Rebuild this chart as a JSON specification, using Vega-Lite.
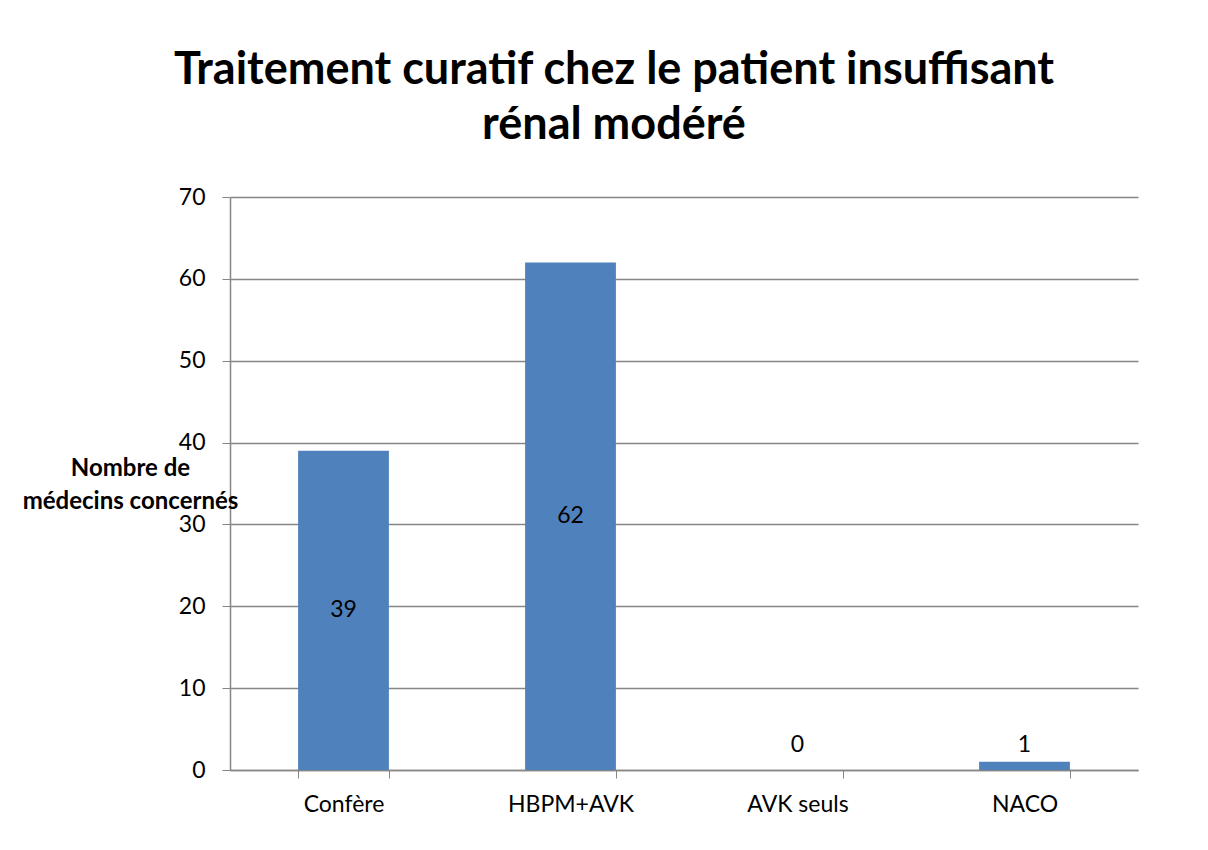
{
  "$schema": "https://vega.github.io/schema/vega-lite/v6.json",
  "autosize": {"type": "none"},
  "width": 908,
  "height": 573,
  "padding": {"left": 230, "top": 197, "right": 70, "bottom": 80},
  "background": "white",
  "title": {
    "text": ["Traitement curatif chez le patient insuffisant", "rénal modéré"],
    "font": "Lato",
    "fontSize": 45,
    "fontWeight": "bold",
    "color": "black",
    "anchor": "middle",
    "frame": "group",
    "lineHeight": 55,
    "offset": 38,
    "dx": -70
  },
  "data": {
    "values": [
      {"categorie": "Confère", "medecins": 39},
      {"categorie": "HBPM+AVK", "medecins": 62},
      {"categorie": "AVK seuls", "medecins": 0},
      {"categorie": "NACO", "medecins": 1}
    ]
  },
  "encoding": {
    "x": {
      "field": "categorie",
      "type": "nominal",
      "sort": null,
      "scale": {"paddingInner": 0.6, "paddingOuter": 0.3},
      "axis": {
        "title": null,
        "labelAngle": 0,
        "labelFont": "Lato",
        "labelFontSize": 23,
        "labelColor": "black",
        "labelPadding": 15,
        "tickBand": "extent",
        "tickSize": 8,
        "tickColor": "#868686",
        "domainColor": "#868686",
        "domainWidth": 1.5,
        "grid": false
      }
    }
  },
  "layer": [
    {
      "mark": {"type": "bar", "color": "#4F81BD"},
      "encoding": {
        "y": {
          "field": "medecins",
          "type": "quantitative",
          "scale": {"domain": [0, 70], "nice": false},
          "axis": {
            "values": [0, 10, 20, 30, 40, 50, 60, 70],
            "title": ["Nombre de", "médecins concernés"],
            "titleAngle": 0,
            "titleFont": "Lato",
            "titleFontSize": 24,
            "titleFontWeight": "bold",
            "titleColor": "black",
            "titleAlign": "center",
            "titleBaseline": "middle",
            "titleLineHeight": 33,
            "titleX": -100,
            "titleY": 271,
            "labelFont": "Lato",
            "labelFontSize": 23,
            "labelColor": "black",
            "labelPadding": 17,
            "tickSize": 8,
            "tickColor": "#868686",
            "domainColor": "#868686",
            "domainWidth": 1.5,
            "grid": true,
            "gridColor": "#868686",
            "gridWidth": 1.5
          }
        }
      }
    },
    {
      "transform": [
        {"calculate": "datum.medecins < 10 ? 3 : datum.medecins / 2", "as": "labelPos"}
      ],
      "mark": {"type": "text", "font": "Lato", "fontSize": 23, "color": "black", "baseline": "middle"},
      "encoding": {
        "y": {"field": "labelPos", "type": "quantitative"},
        "text": {"field": "medecins", "type": "quantitative"}
      }
    }
  ],
  "config": {"view": {"stroke": null}}
}
